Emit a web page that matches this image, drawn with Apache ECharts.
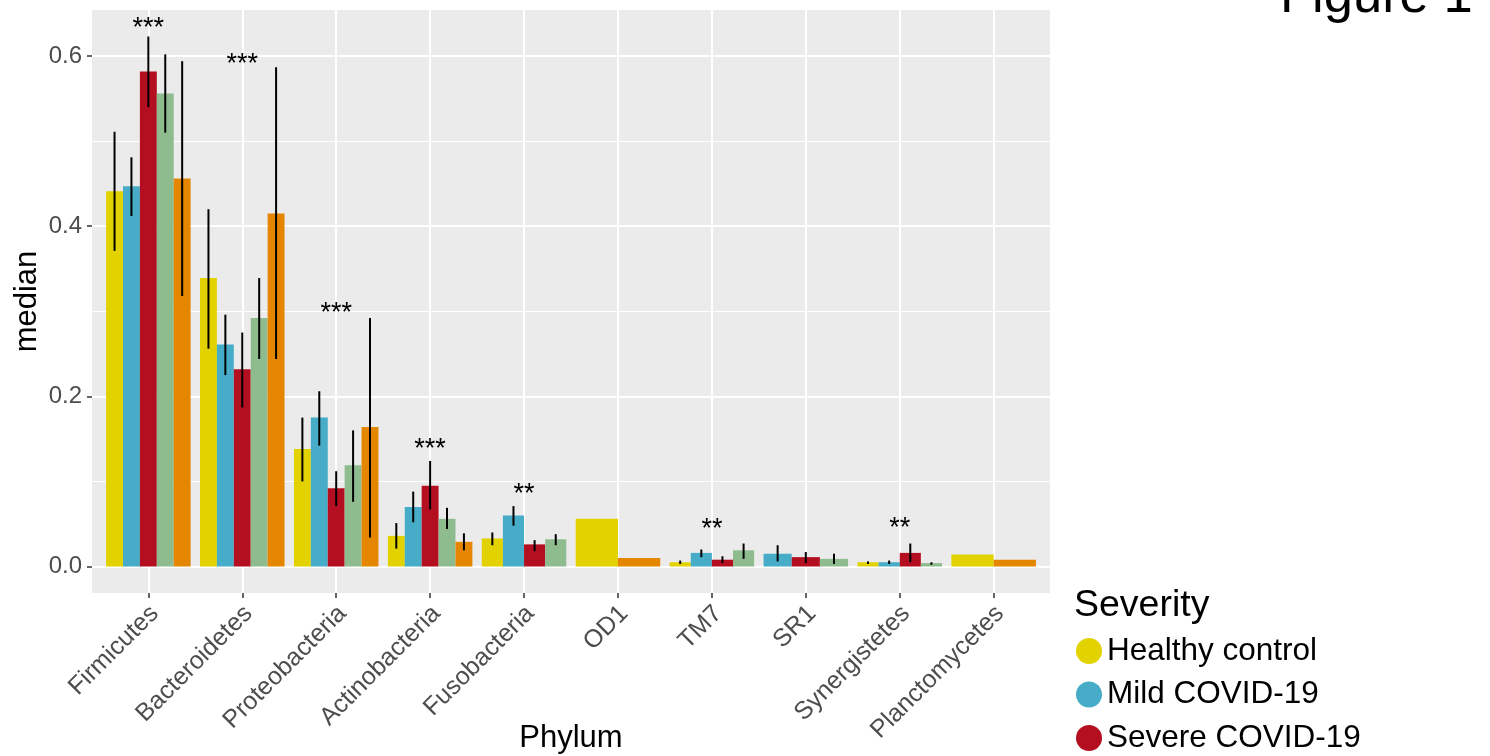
<!DOCTYPE html>
<html><head><meta charset="utf-8">
<script src="https://cdn.jsdelivr.net/npm/echarts@6/dist/echarts.min.js"></script>
<style>html,body{margin:0;padding:0;background:#fff}#c{width:1490px;height:756px}</style>
</head><body><div id="c"></div>
<script>
const categories = ['Firmicutes','Bacteroidetes','Proteobacteria','Actinobacteria','Fusobacteria','OD1','TM7','SR1','Synergistetes','Planctomycetes'];
const groupNames = ['Healthy control','Mild COVID-19','Severe COVID-19','Critical COVID-19','Recovered'];
const groupColors = ['#E2D200','#46ACC8','#B40F20','#8FBC8F','#E58601'];

const healthy   = [0.441,0.339,0.138,0.036,0.033,0.056,0.005,null,0.005,0.014];
const healthyLo = [0.371,0.256,0.100,0.021,0.025,null,0.003,null,0.003,null];
const healthyHi = [0.511,0.420,0.175,0.051,0.040,null,0.007,null,0.006,null];

const mild   = [0.447,0.261,0.175,0.070,0.060,null,0.016,0.015,0.005,null];
const mildLo = [0.412,0.225,0.142,0.052,0.048,null,0.011,0.006,0.003,null];
const mildHi = [0.481,0.296,0.206,0.088,0.071,null,0.020,0.025,0.007,null];

const severe   = [0.582,0.232,0.092,0.095,0.026,null,0.008,0.011,0.016,null];
const severeLo = [0.540,0.187,0.071,0.067,0.018,null,0.004,0.004,0.005,null];
const severeHi = [0.623,0.275,0.112,0.124,0.031,null,0.012,0.017,0.027,null];

const critical   = [0.556,0.292,0.119,0.056,0.032,null,0.019,0.009,0.004,null];
const criticalLo = [0.510,0.244,0.076,0.044,0.025,null,0.009,0.003,0.002,null];
const criticalHi = [0.602,0.339,0.160,0.069,0.038,null,0.027,0.015,0.005,null];

const recovered   = [0.456,0.415,0.164,0.029,null,0.010,null,null,null,0.008];
const recoveredLo = [0.318,0.244,0.034,0.019,null,null,null,null,null,null];
const recoveredHi = [0.594,0.587,0.292,0.039,null,null,null,null,null,null];

const sigLabels = ['***','***','***','***','**','','**','','**',''];
const sigY      = [0.640,0.598,0.305,0.146,0.093,null,0.052,null,0.053,null];

const yTicks = [0, 0.2, 0.4, 0.6];

const values = [healthy, mild, severe, critical, recovered];
const lows = [healthyLo, mildLo, severeLo, criticalLo, recoveredLo];
const highs = [healthyHi, mildHi, severeHi, criticalHi, recoveredHi];

const FONT = 'Liberation Sans, Arial, sans-serif';

// layout of the panel
const W = 1490, H = 756;
const panelL = 92, panelR = 1050, panelT = 10, panelB = 593;
const nCat = categories.length;
const step = (panelR - panelL) / (nCat - 1 + 1.2);
const firstC = panelL + 0.6 * step, lastC = firstC + (nCat - 1) * step;

// y scale with ggplot-like 5% expansion
let maxHi = 0;
highs.forEach(a => a.forEach(v => { if (v != null && v > maxHi) maxHi = v; }));
const yLo = -0.05 * maxHi, yHi = maxHi * 1.05;
function px(v) { return panelB - (v - yLo) / (yHi - yLo) * (panelB - panelT); }
const tickMin = yTicks[0], tickMax = yTicks[yTicks.length - 1];

// dodge slots
const series = [];
values.forEach((vals, g) => {
  const data = [];
  vals.forEach((v, i) => {
    if (v == null) return;
    const present = [];
    values.forEach((vv, gg) => { if (vv[i] != null) present.push(gg); });
    const slot = present.indexOf(g);
    data.push([i, v, lows[g][i] == null ? -1 : lows[g][i], highs[g][i] == null ? -1 : highs[g][i], slot, present.length]);
  });
  series.push({
    type: 'custom', name: groupNames[g], xAxisIndex: 1, yAxisIndex: 1,
    itemStyle: { color: groupColors[g] },
    encode: { x: 0, y: 1 },
    data: data,
    renderItem: function (params, api) {
      const cat = api.value(0), v = api.value(1), lo = api.value(2), hi = api.value(3);
      const slot = api.value(4), n = api.value(5);
      const base = api.coord([cat, 0]);
      const band = api.size([1, 0])[0];
      const total = band * 0.9;
      const w = total / n;
      const x0 = base[0] - total / 2 + slot * w;
      const top = api.coord([cat, v])[1];
      const children = [{ type: 'rect', shape: { x: x0, y: top, width: w, height: base[1] - top }, style: { fill: groupColors[g] } }];
      if (lo >= 0 && hi >= 0) {
        const yl = api.coord([cat, lo])[1], yh = api.coord([cat, hi])[1];
        children.push({ type: 'line', shape: { x1: x0 + w / 2, y1: yl, x2: x0 + w / 2, y2: yh }, style: { stroke: '#000', lineWidth: 2 } });
      }
      return { type: 'group', children: children };
    }
  });
});

const sigData = [];
sigLabels.forEach((s, i) => { if (s) sigData.push([i, sigY[i], i]); });
series.push({
  type: 'custom', name: 'sig', xAxisIndex: 1, yAxisIndex: 1, encode: { x: 0, y: 1 }, data: sigData, z: 5,
  renderItem: function (params, api) {
    const p = api.coord([api.value(0), api.value(1)]);
    return { type: 'text', x: p[0], y: p[1] + 7, style: { text: sigLabels[api.value(2)], fontSize: 27, fontFamily: FONT, fill: '#000', align: 'center', verticalAlign: 'middle' } };
  }
});

const gridBase = { outerBoundsMode: 'none', containLabel: false };
const chart = echarts.init(document.getElementById('c'), null, { renderer: 'canvas' });
chart.setOption({
  animation: false,
  backgroundColor: '#fff',
  textStyle: { fontFamily: FONT },
  title: [
    { text: 'Figure 1', left: 1280, top: -29, padding: 0, textStyle: { fontSize: 52.5, fontWeight: 'normal', color: '#000', fontFamily: FONT } },
    { text: 'Severity', left: 1074, top: 587, padding: 0, textStyle: { fontSize: 37.5, fontWeight: 'normal', color: '#000', fontFamily: FONT } }
  ],
  legend: {
    orient: 'vertical', left: 1076, top: 635, height: 400, padding: 0, itemWidth: 26, itemHeight: 26, itemGap: 11.5,
    icon: 'circle', selectedMode: false, data: groupNames,
    textStyle: { fontSize: 31.5, color: '#000', fontFamily: FONT }
  },
  grid: [
    Object.assign({ left: panelL, right: W - panelR, top: panelT, bottom: H - panelB, show: true, backgroundColor: '#EBEBEB', borderWidth: 0 }, gridBase),
    Object.assign({ left: firstC, right: W - lastC, top: panelT, bottom: H - panelB }, gridBase),
    Object.assign({ left: panelL, right: W - panelR, top: px(tickMax), bottom: H - px(tickMin) }, gridBase)
  ],
  xAxis: [
    { gridIndex: 0, type: 'value', min: 0, max: 1, axisLine: { show: false, onZero: false }, axisTick: { show: false }, axisLabel: { show: false }, splitLine: { show: false },
      name: 'Phylum', nameLocation: 'middle', nameGap: 130, nameTextStyle: { fontSize: 31, color: '#000', fontFamily: FONT } },
    { gridIndex: 1, type: 'category', data: categories, boundaryGap: false,
      axisLine: { show: false, onZero: false },
      axisTick: { show: true, length: 5, lineStyle: { color: '#333', width: 1.5 } },
      axisLabel: { rotate: 45, fontSize: 25, color: '#4D4D4D', margin: 23, interval: 0, fontFamily: FONT, padding: [10.6, -8.9, 0, 0] },
      splitLine: { show: true, lineStyle: { color: '#fff', width: 2 } } },
    { gridIndex: 2, type: 'value', show: false, axisLine: { onZero: false } }
  ],
  yAxis: [
    { gridIndex: 0, type: 'value', min: 0, max: 1, axisLine: { show: false, onZero: false }, axisTick: { show: false }, axisLabel: { show: false }, splitLine: { show: false },
      name: 'median', nameLocation: 'middle', nameGap: 49, nameRotate: 90, nameTextStyle: { fontSize: 31, color: '#000', fontFamily: FONT } },
    { gridIndex: 1, type: 'value', min: yLo, max: yHi, show: false, splitLine: { show: false }, axisLine: { onZero: false } },
    { gridIndex: 2, type: 'value', min: tickMin, max: tickMax, interval: 0.2,
      axisLine: { show: false, onZero: false },
      axisTick: { show: true, length: 5, lineStyle: { color: '#333', width: 1.5 } },
      axisLabel: { fontSize: 24, color: '#4D4D4D', margin: 10, fontFamily: FONT, formatter: v => v.toFixed(1) },
      splitLine: { show: true, lineStyle: { color: '#fff', width: 2 } },
      minorTick: { show: false, splitNumber: 2 },
      minorSplitLine: { show: true, lineStyle: { color: '#fff', width: 1 } } }
  ],
  series: series
});
</script></body></html>
